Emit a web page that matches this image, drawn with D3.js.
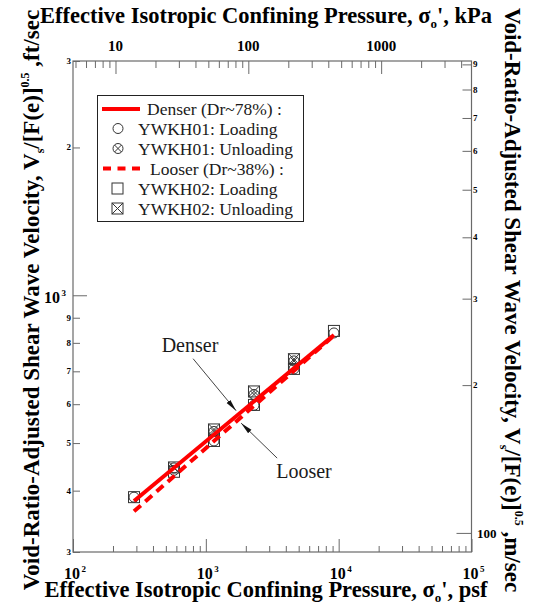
<!DOCTYPE html>
<html>
<head>
<meta charset="utf-8">
<script src="https://cdnjs.cloudflare.com/ajax/libs/d3/7.8.5/d3.min.js"></script>
<style>
  html, body { margin: 0; padding: 0; background: #fff; }
  svg { display: block; }
  text { font-family: "Liberation Serif", "Times New Roman", serif; fill: #000; }
  .bold { font-weight: bold; }
</style>
</head>
<body>
<svg id="chart" width="539" height="615"></svg>
<script>
// ---- data ----
const pressurePsf      = [288, 576, 1152, 2304, 4608, 9216];
const ywkh01Loading    = [388, 440, 505, 597, 708, 838];
const ywkh02Loading    = [388, 437, 505, 598, 708, 846];
const unloadPsf        = [576, 1152, 2304, 4608];
const ywkh01Unloading  = [445, 528, 628, 735];
const ywkh02Unloading  = [446, 533, 637, 741];

// power-law trend lines (end points)
const fitPsf      = [288, 9216];
const denserFitVs = [381, 830];
const looserFitVs = [363, 828];

// axis ticks
const xMajorPsf   = [1e2, 1e3, 1e4, 1e5];
const xMajorExp   = ["2", "3", "4", "5"];
const yLeftTicks  = [300, 400, 500, 600, 700, 800, 900, 1000, 2000, 3000];
const yLeftLabels = ["3", "4", "5", "6", "7", "8", "9", "10^3", "2", "3"];
const yRightTicks = [100, 200, 300, 400, 500, 600, 700, 800, 900];
const yRightLabels= ["100", "2", "3", "4", "5", "6", "7", "8", "9"];
const topMajorKpa = [10, 100, 1000];
const topLabels   = ["10", "100", "1000"];

const PSF_PER_KPA = 20.8854;
const M_PER_FT = 0.3048;

// ---- layout ----
const L = 73, R = 471.5, T = 61, B = 552;
const svg = d3.select("#chart");

const x = d3.scaleLog().domain([1e2, 1e5]).range([L, R]);
const y = d3.scaleLog().domain([300, 3000]).range([B, T]);
const xTop = d3.scaleLog().domain([1e2 / PSF_PER_KPA, 1e5 / PSF_PER_KPA]).range([L, R]);
const yRight = d3.scaleLog().domain([300 * M_PER_FT, 3000 * M_PER_FT]).range([B, T]);

const axisColor = "#6a6a6a";

function minorLog(lo, hi) {
  const out = [];
  for (let e = Math.floor(Math.log10(lo)); e <= Math.ceil(Math.log10(hi)); e++) {
    for (let m = 1; m <= 9; m++) {
      const v = m * Math.pow(10, e);
      if (v > lo * 1.0001 && v < hi * 0.9999) out.push(v);
    }
  }
  return out;
}

function styleAxis(g) {
  g.select(".domain").remove();
  g.selectAll(".tick line").attr("stroke", axisColor).attr("stroke-width", 1);
}

// bottom axis (psf)
const xMinor = minorLog(1e2, 1e5).filter(v => !xMajorPsf.includes(v));
svg.append("g").attr("transform", `translate(0,${B})`)
  .call(d3.axisBottom(x).tickValues(xMinor).tickSize(-6).tickFormat(""))
  .call(styleAxis);
svg.append("g").attr("transform", `translate(0,${B})`)
  .call(d3.axisBottom(x).tickValues(xMajorPsf).tickSize(-13).tickFormat(""))
  .call(styleAxis);

// top axis (kPa)
const kpaLo = 1e2 / PSF_PER_KPA, kpaHi = 1e5 / PSF_PER_KPA;
const topMinor = minorLog(kpaLo, kpaHi).filter(v => !topMajorKpa.includes(v));
svg.append("g").attr("transform", `translate(0,${T})`)
  .call(d3.axisTop(xTop).tickValues(topMinor).tickSize(-7).tickFormat(""))
  .call(styleAxis);
svg.append("g").attr("transform", `translate(0,${T})`)
  .call(d3.axisTop(xTop).tickValues(topMajorKpa).tickSize(-13).tickFormat(""))
  .call(styleAxis);

// left axis (ft/sec)
svg.append("g").attr("transform", `translate(${L},0)`)
  .call(d3.axisLeft(y).tickValues(yLeftTicks.filter(v => v !== 1000)).tickSize(-7).tickFormat(""))
  .call(styleAxis);
svg.append("g").attr("transform", `translate(${L},0)`)
  .call(d3.axisLeft(y).tickValues([1000]).tickSize(-14).tickFormat(""))
  .call(styleAxis);

// right axis (m/sec)
svg.append("g").attr("transform", `translate(${R},0)`)
  .call(d3.axisRight(yRight).tickValues(yRightTicks.filter(v => v !== 100)).tickSize(-9).tickFormat(""))
  .call(styleAxis);
svg.append("g").attr("transform", `translate(${R},0)`)
  .call(d3.axisRight(yRight).tickValues([100]).tickSize(-15).tickFormat(""))
  .call(styleAxis);

// frame
svg.append("rect").attr("x", L).attr("y", T).attr("width", R - L).attr("height", B - T)
  .attr("fill", "none").attr("stroke", axisColor).attr("stroke-width", 1.2);

// ---- tick labels ----
// power-of-ten label: base "10" ends at xEnd, exponent set just after it
function powerLabel(xEnd, yBase, exp) {
  svg.append("text").attr("class", "bold").attr("x", xEnd).attr("y", yBase)
    .attr("text-anchor", "end").style("font-size", "16px").text("10");
  svg.append("text").attr("class", "bold").attr("x", xEnd + 1.5).attr("y", yBase - 7)
    .style("font-size", "9px").text(exp);
}
xMajorPsf.forEach((v, i) => powerLabel(x(v) + 7, 579, xMajorExp[i]));

// top: kPa
topMajorKpa.forEach((v, i) => {
  svg.append("text").attr("class", "bold").attr("x", xTop(v)).attr("y", 51)
    .attr("text-anchor", "middle").style("font-size", "15px").text(topLabels[i]);
});

// left
yLeftTicks.forEach((v, i) => {
  const lab = yLeftLabels[i];
  if (lab.startsWith("10^")) {
    powerLabel(60, y(v) + 8, lab.slice(3));
  } else {
    svg.append("text").attr("class", "bold").attr("x", 71).attr("y", y(v) + 3)
      .attr("text-anchor", "end").style("font-size", "9px").text(lab);
  }
});

// right
yRightTicks.forEach((v, i) => {
  const lab = yRightLabels[i];
  const big = lab.length > 1;
  svg.append("text").attr("class", "bold")
    .attr("x", big ? 477 : 473).attr("y", yRight(v) + (big ? 5 : 3))
    .style("font-size", big ? "13px" : "9px").text(lab);
});

// ---- axis titles ----
function pressureTitle(yPos, unit) {
  const t = svg.append("text").attr("class", "bold").attr("x", 266).attr("y", yPos)
    .attr("text-anchor", "middle").style("font-size", "22.5px");
  t.append("tspan").text("Effective Isotropic Confining Pressure, σ");
  t.append("tspan").attr("dy", 5).style("font-size", "13px").text("o");
  t.append("tspan").attr("dy", -5).text("', " + unit);
}
pressureTitle(23, "kPa");
pressureTitle(597, "psf");

function velocityTitle(cx, cy, angle, unit) {
  const t = svg.append("text").attr("class", "bold")
    .attr("transform", `translate(${cx},${cy}) rotate(${angle})`)
    .attr("text-anchor", "middle").style("font-size", "23px");
  t.append("tspan").text("Void-Ratio-Adjusted Shear Wave Velocity, V");
  t.append("tspan").attr("dy", 5).style("font-size", "12px").text("s");
  t.append("tspan").attr("dy", -5).text("/[F(e)]");
  t.append("tspan").attr("dy", -10).style("font-size", "12px").text("0.5");
  t.append("tspan").attr("dy", 10).text(" ," + unit);
}
velocityTitle(39, 300, -90, "ft/sec");
velocityTitle(505, 300, 90, "m/sec");

// ---- markers ----
const mk = "#333";
const gMarks = svg.append("g");
function circleMark(g, cx, cy, cross) {
  g.append("circle").attr("cx", cx).attr("cy", cy).attr("r", 5)
    .attr("fill", "none").attr("stroke", mk).attr("stroke-width", 1);
  if (cross) {
    const d = 3.5;
    g.append("path").attr("d", `M${cx - d},${cy - d}L${cx + d},${cy + d}M${cx - d},${cy + d}L${cx + d},${cy - d}`)
      .attr("stroke", mk).attr("stroke-width", 1);
  }
}
function squareMark(g, cx, cy, cross) {
  const h = 5.5;
  g.append("rect").attr("x", cx - h).attr("y", cy - h).attr("width", 2 * h).attr("height", 2 * h)
    .attr("fill", "none").attr("stroke", mk).attr("stroke-width", 1);
  if (cross) {
    g.append("path").attr("d", `M${cx - h},${cy - h}L${cx + h},${cy + h}M${cx - h},${cy + h}L${cx + h},${cy - h}`)
      .attr("stroke", mk).attr("stroke-width", 1);
  }
}
pressurePsf.forEach((p, i) => squareMark(gMarks, x(p), y(ywkh02Loading[i]), false));
unloadPsf.forEach((p, i) => squareMark(gMarks, x(p), y(ywkh02Unloading[i]), true));
pressurePsf.forEach((p, i) => circleMark(gMarks, x(p), y(ywkh01Loading[i]), false));
unloadPsf.forEach((p, i) => circleMark(gMarks, x(p), y(ywkh01Unloading[i]), true));

// ---- trend lines ----
const line = d3.line().x(d => x(d[0])).y(d => y(d[1]));
svg.append("path").datum(fitPsf.map((p, i) => [p, looserFitVs[i]]))
  .attr("d", line).attr("fill", "none").attr("stroke", "#ff0000")
  .attr("stroke-width", 4).attr("stroke-dasharray", "9,6");
svg.append("path").datum(fitPsf.map((p, i) => [p, denserFitVs[i]]))
  .attr("d", line).attr("fill", "none").attr("stroke", "#ff0000").attr("stroke-width", 4);

// ---- annotations ----
svg.append("defs").append("marker").attr("id", "arrow")
  .attr("viewBox", "0 0 12 6").attr("refX", 12).attr("refY", 3)
  .attr("markerWidth", 12).attr("markerHeight", 6).attr("markerUnits", "userSpaceOnUse")
  .attr("orient", "auto")
  .append("path").attr("d", "M0,0.6L12,3L0,5.4Z").attr("fill", "#111");

const notes = [
  { text: "Denser", psf: 1690, vs: 582, dx: -43, dy: -52, tx: 190, ty: 352 },
  { text: "Looser", psf: 1845, vs: 549, dx: 36, dy: 35, tx: 304, ty: 478 }
];
notes.forEach(n => {
  const ex = x(n.psf), ey = y(n.vs);
  svg.append("line").attr("x1", ex + n.dx).attr("y1", ey + n.dy).attr("x2", ex).attr("y2", ey)
    .attr("stroke", "#444").attr("stroke-width", 1).attr("marker-end", "url(#arrow)");
  svg.append("text").attr("x", n.tx).attr("y", n.ty).attr("text-anchor", "middle")
    .style("font-size", "20px").style("fill", "#1a1a1a").text(n.text);
});

// ---- legend ----
const lg = svg.append("g");
lg.append("rect").attr("x", 97.5).attr("y", 95.5).attr("width", 206).attr("height", 126)
  .attr("fill", "#fff").attr("stroke", "#222").attr("stroke-width", 1);
const rows = [109, 128.5, 148.5, 168.5, 188.5, 208.5];
lg.append("line").attr("x1", 102).attr("x2", 140).attr("y1", rows[0]).attr("y2", rows[0])
  .attr("stroke", "#ff0000").attr("stroke-width", 4);
lg.append("line").attr("x1", 103).attr("x2", 140).attr("y1", rows[3]).attr("y2", rows[3])
  .attr("stroke", "#ff0000").attr("stroke-width", 4).attr("stroke-dasharray", "8,6.5");
circleMark(lg, 118, rows[1], false);
circleMark(lg, 118, rows[2], true);
squareMark(lg, 117.5, rows[4], false);
squareMark(lg, 117.5, rows[5], true);
const legendText = [
  [147, "Denser (Dr~78%) :"],
  [138, "YWKH01: Loading"],
  [138, "YWKH01: Unloading"],
  [150, "Looser (Dr~38%) :"],
  [138, "YWKH02: Loading"],
  [138, "YWKH02: Unloading"]
];
legendText.forEach((d, i) => {
  lg.append("text").attr("x", d[0]).attr("y", rows[i] + 6)
    .style("font-size", "17.5px").style("fill", "#1a1a1a").text(d[1]);
});
</script>
</body>
</html>
